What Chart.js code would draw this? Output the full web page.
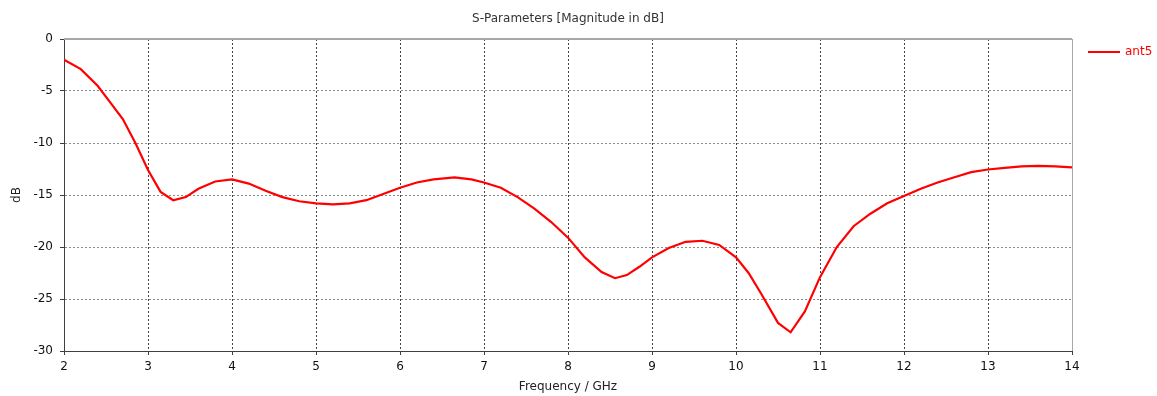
<!DOCTYPE html>
<html>
<head>
<meta charset="utf-8">
<script src="https://cdn.jsdelivr.net/npm/chart.js@4/dist/chart.umd.min.js"></script>
<style>
  html, body { margin: 0; padding: 0; background: #fff; }
  #wrap { width: 1157px; height: 396px; position: relative; }
</style>
</head>
<body>
<div id="wrap"><canvas id="sparam"></canvas></div>
<script>
// values
const freqGHz = [2.0, 2.2, 2.4, 2.55, 2.7, 2.85, 3.0, 3.15, 3.3, 3.45, 3.6, 3.8, 4.0, 4.2, 4.4, 4.6, 4.8, 5.0, 5.2, 5.4,
  5.6, 5.8, 6.0, 6.2, 6.4, 6.65, 6.85, 7.0, 7.2, 7.4, 7.6, 7.8, 8.0, 8.2, 8.4, 8.56, 8.7, 8.85, 9.0, 9.2,
  9.4, 9.6, 9.8, 10.0, 10.15, 10.3, 10.5, 10.65, 10.82, 11.0, 11.2, 11.4, 11.6, 11.8, 12.0, 12.2, 12.4, 12.6, 12.8, 13.0,
  13.2, 13.4, 13.6, 13.8, 14.0];
const ant5dB = [-2.0, -2.9, -4.5, -6.1, -7.7, -10.0, -12.6, -14.7, -15.5, -15.2, -14.4, -13.7, -13.5, -13.9, -14.6, -15.2, -15.6, -15.8, -15.9, -15.8,
  -15.5, -14.9, -14.3, -13.8, -13.5, -13.3, -13.5, -13.8, -14.3, -15.2, -16.3, -17.6, -19.1, -21.0, -22.4, -23.0, -22.7, -21.9, -21.0, -20.1,
  -19.5, -19.4, -19.8, -21.0, -22.5, -24.5, -27.3, -28.2, -26.2, -22.9, -20.0, -18.0, -16.8, -15.8, -15.1, -14.4, -13.8, -13.3, -12.8, -12.55,
  -12.4, -12.25, -12.2, -12.25, -12.35];
const xTicks = [2, 3, 4, 5, 6, 7, 8, 9, 10, 11, 12, 13, 14];
const yTicks = [0, -5, -10, -15, -20, -25, -30];

const chartTitle = "S-Parameters [Magnitude in dB]";
const seriesName = "ant5";
const FONT = "DejaVu Sans";

// title, frame and legend drawn by hand to match the original layout
const decorPlugin = {
  id: "decor",
  afterDraw(chart) {
    const ctx = chart.ctx;
    const a = chart.chartArea;
    ctx.save();
    // top + right frame
    ctx.strokeStyle = "#a8a8a8";
    ctx.lineWidth = 2;
    ctx.beginPath();
    ctx.moveTo(a.left, a.top);
    ctx.lineTo(a.right, a.top);
    ctx.stroke();
    ctx.lineWidth = 1;
    ctx.beginPath();
    ctx.moveTo(a.right + 0.5, a.top);
    ctx.lineTo(a.right + 0.5, a.bottom);
    ctx.stroke();

    ctx.fillStyle = "#333";
    ctx.font = "12px '" + FONT + "'";
    ctx.textAlign = "center";
    ctx.textBaseline = "middle";
    ctx.fillText(chartTitle, (a.left + a.right) / 2, 19);

    // legend
    ctx.strokeStyle = "#ff0000";
    ctx.lineWidth = 2;
    ctx.beginPath();
    ctx.moveTo(1088, 52);
    ctx.lineTo(1120, 52);
    ctx.stroke();
    ctx.fillStyle = "#ff0000";
    ctx.textAlign = "left";
    ctx.font = "12px '" + FONT + "'";
    ctx.fillText(seriesName, 1125, 52);
    ctx.restore();
  }
};

new Chart(document.getElementById("sparam"), {
  type: "line",
  data: {
    datasets: [{
      label: seriesName,
      data: freqGHz.map((f, i) => ({ x: f, y: ant5dB[i] })),
      borderColor: "#ff0000",
      borderWidth: 2.2,
      pointRadius: 0,
      tension: 0,
      fill: false
    }]
  },
  options: {
    responsive: true,
    maintainAspectRatio: false,
    animation: false,
    layout: { padding: { top: 39, right: 85, left: 0, bottom: 0 } },
    plugins: {
      legend: { display: false },
      title: { display: false },
      tooltip: { enabled: false }
    },
    scales: {
      x: {
        type: "linear",
        min: 2,
        max: 14,
        afterFit(scale) { scale.height = 45; },
        afterBuildTicks(scale) { scale.ticks = xTicks.map(v => ({ value: v })); },
        border: { display: true, color: "#404040", width: 1, dash: [2, 2] },
        grid: {
          color: "#444",
          tickLength: 4,
          tickColor: "#404040",
          tickBorderDash: []
        },
        ticks: { color: "#111", padding: 5, font: { family: FONT, size: 12 }, maxRotation: 0 },
        title: {
          display: true,
          text: "Frequency / GHz",
          color: "#222",
          font: { family: FONT, size: 12 },
          padding: { top: 0, bottom: 2 }
        }
      },
      y: {
        type: "linear",
        min: -30,
        max: 0,
        afterFit(scale) { scale.width = 64; },
        afterBuildTicks(scale) { scale.ticks = yTicks.map(v => ({ value: v })); },
        border: { display: true, color: "#404040", width: 1, dash: [2, 2] },
        grid: {
          color: "#8a8a8a",
          tickLength: 4,
          tickColor: "#404040",
          tickBorderDash: []
        },
        ticks: { color: "#111", padding: 7, font: { family: FONT, size: 12 } },
        title: {
          display: true,
          text: "dB",
          color: "#222",
          font: { family: FONT, size: 12 },
          padding: { top: 10, bottom: 0 }
        }
      }
    }
  },
  plugins: [decorPlugin]
});
</script>
</body>
</html>
